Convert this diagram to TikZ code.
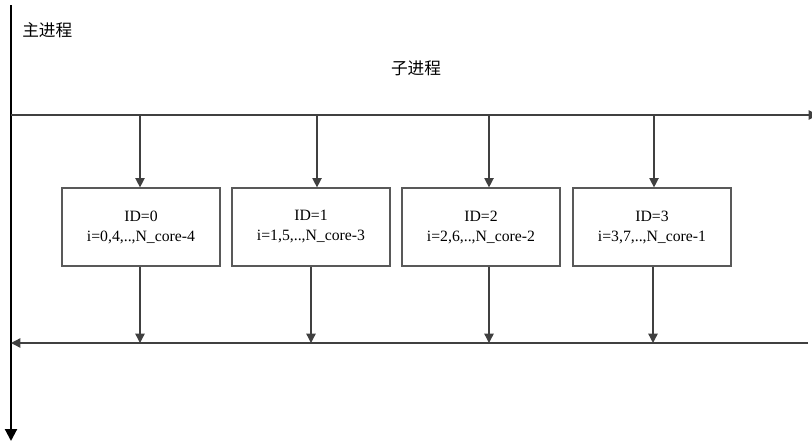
\documentclass[tikz,border=0pt]{standalone}
\usepackage{fontspec}
\setmainfont{Liberation Serif}
\newfontfamily\cjk{Noto Sans CJK SC}
\usetikzlibrary{arrows.meta}

\begin{document}
\begin{tikzpicture}[x=0.75pt, y=-0.75pt, >={Triangle[length=7pt,width=7pt]},
    proc/.style={draw=black!65, line width=0.9pt, minimum width=118.5pt, minimum height=58.5pt,
                 align=center, inner sep=0pt, font=\fontsize{11.8}{15}\selectfont},
    flow/.style={->, draw=black!75, line width=1pt},
    cjklabel/.style={font=\cjk\fontsize{12.5}{14}\selectfont, inner sep=0pt}]
    \useasboundingbox (0,0) rectangle (812,446);

    % main process
    \coordinate (mtop) at (11,5);
    \coordinate (mbot) at (11,441);
    \draw[->, line width=1.6pt, >={Triangle[length=9pt,width=9pt]}] (mtop) -- (mbot);
    \node[cjklabel, anchor=west] (main) at (22,30) {主进程};
    \node[cjklabel] (sub) at (416,68) {子进程};

    % fork and join
    \coordinate (fork) at (11,115);
    \coordinate (forkend) at (818,115);
    \coordinate (joinstart) at (808,343);
    \coordinate (join) at (11,343);
    \draw[flow] (fork) -- (forkend);
    \draw[flow] (joinstart) -- (join);

    % child processes
    \node[proc] (p0) at (141,227) {ID=0\\i=0,4,..,N\_core-4};
    \node[proc] (p1) at (311,227) {ID=1\\i=1,5,..,N\_core-3};
    \node[proc] (p2) at (481,227) {ID=2\\i=2,6,..,N\_core-2};
    \node[proc] (p3) at (652,227) {ID=3\\i=3,7,..,N\_core-1};

    \foreach \i/\tx/\bx in {0/140/140, 1/317/311, 2/489/489, 3/654/653} {
        \coordinate (t\i) at (\tx,115);
        \coordinate (u\i) at (\bx,343);
        \draw[flow] (t\i) -- (t\i |- p\i.north);
        \draw[flow] (u\i |- p\i.south) -- (u\i);
    }
\end{tikzpicture}
\end{document}
